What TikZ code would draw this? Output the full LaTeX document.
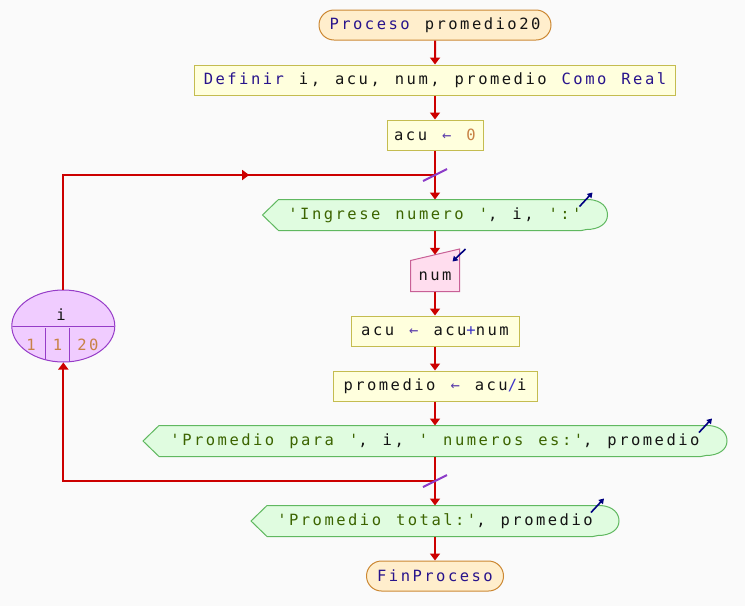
\documentclass[tikz,border=0pt]{standalone}
\usepackage{fontspec}
\usetikzlibrary{arrows.meta,shapes.misc,shapes.geometric,calc}
\newfontfamily\codefont[LetterSpace=16,WordSpace={1.27,0,0}]{DejaVu Sans Mono}

\definecolor{bgc}{RGB}{250,250,250}
\definecolor{flow}{RGB}{204,0,0}
\definecolor{termf}{RGB}{255,238,204}
\definecolor{termd}{RGB}{204,136,51}
\definecolor{procf}{RGB}{255,255,221}
\definecolor{procd}{RGB}{196,188,80}
\definecolor{outf}{RGB}{224,252,224}
\definecolor{outd}{RGB}{96,184,96}
\definecolor{inf}{RGB}{255,221,238}
\definecolor{ind}{RGB}{200,96,150}
\definecolor{loopf}{RGB}{240,204,255}
\definecolor{loopd}{RGB}{150,60,200}
\definecolor{kw}{RGB}{40,20,140}
\definecolor{idc}{RGB}{20,20,20}
\definecolor{strc}{RGB}{60,100,0}
\definecolor{numc}{RGB}{200,130,70}
\definecolor{opc}{RGB}{60,50,200}
\definecolor{asgc}{RGB}{90,60,170}
\definecolor{icon}{RGB}{0,0,128}
\definecolor{slashc}{RGB}{140,60,200}

\newcommand\kwd[1]{\textcolor{kw}{#1}}
\newcommand\strg[1]{\textcolor{strc}{#1}}
\newcommand\numb[1]{\textcolor{numc}{#1}}
\newcommand\opr[1]{\textcolor{opc}{#1}}
\newcommand\asg{\textcolor{asgc}{←}}

\pgfdeclarelayer{shapes}
\pgfsetlayers{shapes,main}

\begin{document}
\begin{tikzpicture}[x=1pt,y=-1pt,
  base/.style={font=\codefont\fontsize{15.5}{18}\selectfont, text=idc, inner sep=0, minimum height=30, line width=1},
  term/.style={base, rounded rectangle, draw=termd, fill=termf},
  proc/.style={base, rectangle, draw=procd, fill=procf},
  holder/.style={base, rectangle},
  outshp/.style={draw=outd, fill=outf, line width=1},
  inshp/.style={draw=ind, fill=inf, line width=1},
  flowrun/.style={draw=flow, line width=2},
  flowline/.style={flowrun, -{Triangle[length=7,width=10]}},
  iconarr/.style={draw=icon, line width=1.6, -{Triangle[length=5,width=6]}},
  slash/.style={draw=slashc, line width=2}
]
\begin{pgfonlayer}{shapes}
  \fill[bgc] (0,0) rectangle (745,606);
\end{pgfonlayer}
\useasboundingbox (0,0) rectangle (745,606);

% output shape: pointed left side, bulging right side
\newcommand\outshape[1]{%
  \begin{pgfonlayer}{shapes}
  \path[outshp] (#1.west) -- ([xshift=16]#1.north west) -- ([xshift=-18]#1.north east)
    .. controls ([xshift=-6,yshift=-1]#1.north east) and ([yshift=8]#1.east) .. (#1.east)
    .. controls ([yshift=-9]#1.east) and ([xshift=-9,yshift=1]#1.south east) .. ([xshift=-21,yshift=1]#1.south east)
    -- ([xshift=-26]#1.south east) -- ([xshift=16]#1.south west) -- cycle;
  \end{pgfonlayer}
  \draw[iconarr] ([xshift=-28,yshift=-7]#1.north east) -- ([xshift=-15,yshift=7]#1.north east);
}

% main sequence
\node[term, minimum width=232] (start) at (435,25) {\kwd{Proceso} promedio20};
\node[proc, minimum width=481] (def) at (435,80) {\kwd{Definir} i, acu, num, promedio \kwd{Como Real}};
\node[proc, minimum width=96] (a0) at (435,135) {acu \asg{} \numb{0}};
\node[holder, minimum width=344] (o1) at (435,215) {\strg{'Ingrese numero '}, i, \strg{':'}};
\outshape{o1}
\node[holder, minimum width=48, minimum height=30] (in) at (435,276) {num};
\begin{pgfonlayer}{shapes}
  \path[inshp] (in.north west) -- ([yshift=11.5]in.north east) -- (in.south east) -- (in.south west) -- cycle;
\end{pgfonlayer}
\draw[iconarr] ([xshift=6,yshift=11.5]in.north east) -- ([xshift=-7,yshift=-1]in.north east);
\coordinate (intop) at ($(in.north west)!0.5!([yshift=11.5]in.north east)$);
\node[proc, minimum width=168] (a1) at (435,331) {acu \asg{} acu\opr{+}num};
\node[proc, minimum width=204] (a2) at (435,386) {promedio \asg{} acu\opr{/}i};
\node[holder, minimum width=583] (o2) at (435,441) {\strg{'Promedio para '}, i, \strg{' numeros es:'}, promedio};
\outshape{o2}
\node[holder, minimum width=367] (o3) at (435,521) {\strg{'Promedio total:'}, promedio};
\outshape{o3}
\node[term, minimum width=137] (end) at (435,576) {\kwd{FinProceso}};

% loop counter
\node[ellipse, draw=loopd, fill=loopf, line width=1, minimum width=103, minimum height=72, inner sep=0] (lp) at (63.3,326) {};
\begin{scope}
  \clip (lp.center) ellipse [x radius=51, y radius=35.5];
  \draw[loopd, line width=1] (lp.west) -- (lp.east);
  \draw[loopd, line width=1] ($(lp.center)+(-18.3,2)$) -- +(0,40);
  \draw[loopd, line width=1] ($(lp.center)+(6,2)$) -- +(0,40);
\end{scope}
\node[base, minimum height=0] (lv) at (61,315) {i};
\node[base, minimum height=0, text=numc] (l1) at (31,345) {1};
\node[base, minimum height=0, text=numc] (l2) at (57.5,345) {1};
\node[base, minimum height=0, text=numc] (l3) at (88,345) {20};

% junction points of the loop
\coordinate (jtop) at (435,175);
\coordinate (jbot) at (435,481);
\coordinate (lc1) at (lp.north |- jtop);

% connectors
\draw[flowline] (start) -- (def);
\draw[flowline] (def) -- (a0);
\draw[flowline] (a0) -- (o1);
\draw[flowline] (o1) -- (intop);
\draw[flowline] (in) -- (a1);
\draw[flowline] (a1) -- (a2);
\draw[flowline] (a2) -- (o2);
\draw[flowline] (o2) -- (o3);
\draw[flowline] (o3) -- (end);
\draw[flowrun] (lp.north) -- (lc1) -- (jtop);
\draw[flowline] (lc1) -- ($(lc1)!0.5!(jtop)$);
\draw[flowline] (jbot) -| (lp.south);
\draw[slash] ([shift={(-12,6)}]jtop) -- ([shift={(12,-6)}]jtop);
\draw[slash] ([shift={(-12,6)}]jbot) -- ([shift={(12,-6)}]jbot);
\end{tikzpicture}
\end{document}
